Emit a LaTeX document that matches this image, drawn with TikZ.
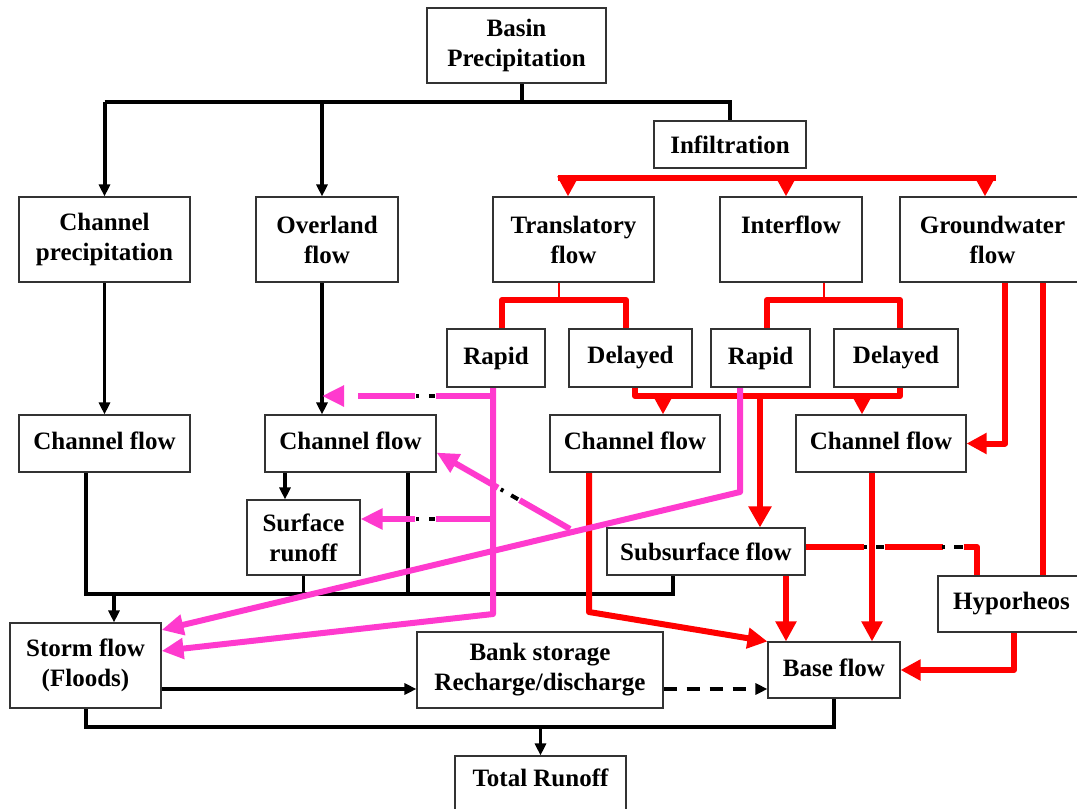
\documentclass[tikz,border=0pt]{standalone}
\usepackage{fontspec}
\setmainfont{Liberation Serif}
\usetikzlibrary{arrows.meta,calc}
\definecolor{pinkc}{RGB}{255,58,206}
\pgfdeclarelayer{bg}
\pgfsetlayers{bg,main}
\newcommand{\up}[2]{\raisebox{#1pt}{#2}}
\begin{document}
\begin{tikzpicture}[x=1pt,y=-1pt,
  box/.style={draw=black!80, line width=1.1pt, fill=white, align=center,
              inner sep=0pt, font=\fontsize{25}{30}\selectfont\bfseries},
  sz/.style 2 args={minimum width=#1pt, minimum height=#2pt},
  tree/.style={line width=4pt, black},
  blk/.style={line width=3.2pt, black},
  btip/.style={-{Triangle[length=12pt,width=11pt]}},
  redl/.style={line width=6pt, red, line cap=round, line join=round},
  redthin/.style={line width=2pt, red},
  rtip/.style={-{Triangle[length=20pt,width=20pt]}},
  pinkl/.style={line width=6pt, pinkc, line join=round},
  ptip/.style={-{Triangle[length=22pt,width=20pt]}},
  gapdash/.style={line width=4pt, black}]
\useasboundingbox (0,0) rectangle (1077,809);
\clip (0,0) rectangle (1077,809);

% ---- boxes ----
\node[box, sz={179}{75}] (basin) at (516.5,45.5) {\up{2}{Basin}\\\up{2}{Precipitation}};
\node[box, sz={152}{47}] (infil) at (730,144.5) {Infiltration};
\node[box, sz={171}{85}] (chprec) at (104.5,239.5) {Channel\\precipitation};
\node[box, sz={142}{85}] (overland) at (327,239.5) {Overland\\flow};
\node[box, sz={161}{85}] (transl) at (573.5,239.5) {Translatory\\flow};
\node[box, sz={142}{85}] (interf) at (791,239.5) {Interflow\\\mbox{}};
\node[box, sz={185}{85}] (gw) at (992.5,239.5) {Groundwater\\flow};
\node[box, sz={98}{58}] (rapidA) at (496,358) {\up{3}{Rapid}};
\node[box, sz={123}{58}] (delayA) at (630.5,358) {\up{3}{Delayed}};
\node[box, sz={99}{58}] (rapidB) at (760.5,358) {\up{3}{Rapid}};
\node[box, sz={124}{58}] (delayB) at (896,358) {\up{3}{Delayed}};
\node[box, sz={171}{57}] (cfA) at (104.5,443.5) {\up{5}{Channel flow}};
\node[box, sz={171}{57}] (cfB) at (350.5,443.5) {\up{5}{Channel flow}};
\node[box, sz={170}{57}] (cfC) at (635,443.5) {\up{5}{Channel flow}};
\node[box, sz={170}{57}] (cfD) at (881,443.5) {\up{5}{Channel flow}};
\node[box, sz={113}{75}] (surf) at (303.5,537.5) {Surface\\runoff};
\node[box, sz={198}{47}] (subs) at (706,551.5) {Subsurface flow};
\node[box, sz={147}{56}] (hypo) at (1011.5,604) {\up{3}{Hyporheos}};
\node[box, sz={151}{85}] (storm) at (85.5,665.5) {Storm flow\\(Floods)};
\node[box, sz={246}{76}] (bank) at (540,670) {Bank storage\\Recharge/discharge};
\node[box, sz={132}{56}] (base) at (834,670) {\up{4}{Base flow}};
\node[box, sz={171}{74}] (total) at (540.5,793) {Total Runoff\\\mbox{}};

\begin{pgfonlayer}{bg}
% ---- black connectors ----
\coordinate (bj) at (522,102);
\draw[tree] (basin.south -| bj) -- (bj);
\draw[tree] (bj -| chprec.north) -- (bj -| infil.north) -- (infil.north);
\draw[tree, btip] (bj -| chprec.north) -- (chprec.north);
\draw[tree, btip] (322,102) -- (322,0 |- overland.north);
\draw[blk, btip] (chprec.south) -- (cfA.north);
\draw[blk, btip] (322,0 |- overland.south) -- (322,0 |- cfB.north);

\coordinate (hb) at (86,594);
\draw[blk] (hb |- cfA.south) -- (hb) -- (673,594) -- (673,0 |- subs.south);
\draw[blk] (surf.south) -- (surf.south |- hb);
\draw[blk] (408,0 |- cfB.south) -- (408,594);
\draw[blk, btip] (285,0 |- cfB.south) -- (285,0 |- surf.north);
\draw[blk, btip] (114,594) -- (114,0 |- storm.north);
\draw[blk, btip] (storm.east |- 0,689) -- (bank.west |- 0,689);
\draw[blk, btip, dash pattern=on 13pt off 10pt] (bank.east |- 0,689) -- (base.west |- 0,689);
\coordinate (bb) at (86,727);
\draw[blk] (bb |- storm.south) -- (bb) -- (bb -| base.south) -- (base.south);
\draw[blk, btip] (bb -| total.north) -- (total.north);

% ---- red connectors ----
\draw[red, line width=6pt] (558,178) -- (996,178);
\draw[red, line width=6pt, rtip] (568,178) -- (568,0 |- transl.north);
\draw[red, line width=6pt, rtip] (786,178) -- (786,0 |- interf.north);
\draw[red, line width=6pt, rtip] (985,178) -- (985,0 |- gw.north);

\draw[redthin] (559,0 |- transl.south) -- (559,300);
\draw[redl] (502,0 |- rapidA.north) -- (502,300) -- (626,300) -- (626,0 |- delayA.north);
\draw[redthin] (824,0 |- interf.south) -- (824,300);
\draw[redl] (767,0 |- rapidB.north) -- (767,300) -- (900,300) -- (900,0 |- delayB.north);

\draw[redl] (635,0 |- delayA.south) -- (635,396) -- (900,396) -- (900,0 |- delayB.south);
\draw[red, line width=6pt, rtip] (663,396) -- (663,0 |- cfC.north);
\draw[red, line width=6pt, rtip] (862,396) -- (862,0 |- cfD.north);
\draw[redl, -{Triangle[length=21pt,width=22pt]}] (760,396) -- (760,0 |- subs.north);

\draw[redl, rtip] (589,0 |- cfC.south) -- (589,612) -- (base.north west);
\draw[redl, rtip] (786,0 |- subs.south) -- (786,0 |- base.north);
\draw[redl, rtip] (872,0 |- cfD.south) -- (872,0 |- base.north);
\draw[redl, rtip] (1005,0 |- gw.south) -- (1005,443.5) -- (cfD.east);
\draw[redl] (1043,0 |- gw.south) -- (1043,0 |- hypo.north);
\draw[redl, rtip] (1014,0 |- hypo.south) -- (1014,670) -- (base.east);
\draw[red, line width=6pt, line join=round, dash pattern=on 58pt off 21pt]
  (subs.east |- 0,547) -- (977,547) -- (977,0 |- hypo.north);
\foreach \a/\b in {864/867, 876/884, 942/945, 954/963}
  \draw[gapdash] (\a,547) -- (\b,547);

% ---- pink connectors ----
\draw[pinkl, line cap=round, ptip] (493,0 |- rapidA.south) -- (493,614) -- (storm.east |- 0,651);
\draw[pinkl, ptip, dash pattern=on 57pt off 21pt] (493,396) -- (322,396);
\draw[pinkl, ptip, dash pattern=on 57pt off 21pt] (493,519) -- (surf.east |- 0,519);
\coordinate (dtip) at ($(cfB.south east)+(0,-20)$);
\coordinate (dstart) at (570,529);
\draw[pinkl, ptip, dash pattern=on 58pt off 25pt on 300pt] (dstart) -- (dtip);
\draw[pinkl, line cap=round, ptip] (740,0 |- rapidB.south) -- (740,492) -- (storm.east |- 0,630);
\foreach \yy in {396,519}{
  \draw[gapdash] (416,\yy) -- (419,\yy);
  \draw[gapdash] (429,\yy) -- (435,\yy);
}
\draw[gapdash] ($(dtip)!74pt!(dstart)$) -- ($(dtip)!77pt!(dstart)$);
\draw[gapdash] ($(dtip)!86pt!(dstart)$) -- ($(dtip)!94pt!(dstart)$);
\end{pgfonlayer}
\end{tikzpicture}
\end{document}
